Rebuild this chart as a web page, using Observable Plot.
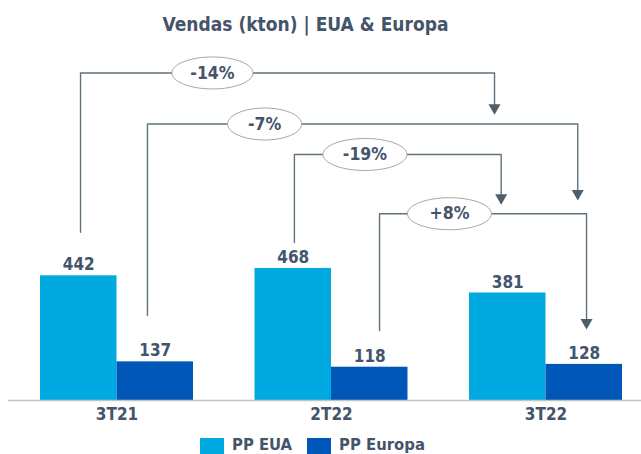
<!DOCTYPE html>
<html><head><meta charset="utf-8">
<script src="https://cdn.jsdelivr.net/npm/d3@7"></script>
<script src="https://cdn.jsdelivr.net/npm/@observablehq/plot@0.6"></script>
<style>
body{margin:0;background:#fff;font-family:"DejaVu Sans Condensed","DejaVu Sans",sans-serif;font-stretch:condensed;color:#44546a;}
#wrap{position:relative;width:641px;height:454px;overflow:hidden;}
#title{position:absolute;left:0;top:0;width:611px;text-align:center;font-weight:bold;font-size:19px;line-height:19px;padding-top:15px;}
#chart{position:absolute;left:0;top:40px;}
#legend{position:absolute;left:200px;top:436px;display:flex;align-items:flex-start;font-weight:bold;font-size:16.5px;line-height:17px;}
.sw{width:24px;height:18px;margin-top:2px;margin-right:8px;}
.item{display:flex;align-items:flex-start;margin-right:15px;}
</style></head><body>
<div id="wrap"><div id="title">Vendas (kton) | EUA &amp; Europa</div><div id="chart"></div><div id="legend"></div></div>
<script>
// ---- data ----
const quarters = ["3T21", "2T22", "3T22"];
const seriesNames = ["PP EUA", "PP Europa"];
const euaValues = [442, 468, 381];
const europaValues = [137, 118, 128];
const changeLabels = ["-14%", "-7%", "-19%", "+8%"];
const seriesColors = ["#00a9e0", "#0057b8"];

// ---- annotation layout (x in quarter-index units, y in kton units) ----
const connFromX = [-0.170, 0.142, 0.827, 1.224];
const connToX = [1.760, 2.148, 1.791, 2.189];
const connLevelY = [1161, 980, 872, 662];
const connStartY = [596, 301, 560, 248];
const connTipY = [1013, 709, 694, 252];
const labelX = [0.445, 0.688, 1.156, 1.550];
const labelRx = [40.5, 37, 42, 42];

const BW = 0.3566; // bar width in quarter units
const textColor = "#44546a";
const lineColor = "#5f737e";
const font = '"DejaVu Sans Condensed","DejaVu Sans",sans-serif';

const rows = [];
quarters.forEach((q, i) => {
  rows.push({q, i, series: seriesNames[0], value: euaValues[i]});
  rows.push({q, i, series: seriesNames[1], value: europaValues[i]});
});
const off = s => s === seriesNames[0] ? -BW : 0;

const connPts = [];
changeLabels.forEach((lab, k) => {
  connPts.push({k, x: connFromX[k], y: connStartY[k]});
  connPts.push({k, x: connFromX[k], y: connLevelY[k]});
  connPts.push({k, x: connToX[k], y: connLevelY[k]});
  connPts.push({k, x: connToX[k], y: connTipY[k] + 30});
});
const tips = changeLabels.map((lab, k) => ({x: connToX[k], y: connTipY[k]}));
const labels = changeLabels.map((lab, k) => ({lab, x: labelX[k], y: connLevelY[k], rx: labelRx[k]}));

function ellipse(a, b) {
  return {draw(ctx) {
    const k = 0.5523;
    ctx.moveTo(a, 0);
    ctx.bezierCurveTo(a, k * b, k * a, b, 0, b);
    ctx.bezierCurveTo(-k * a, b, -a, k * b, -a, 0);
    ctx.bezierCurveTo(-a, -k * b, -k * a, -b, 0, -b);
    ctx.bezierCurveTo(k * a, -b, a, -k * b, a, 0);
    ctx.closePath();
  }};
}

const chart = Plot.plot({
  width: 641,
  height: 390,
  marginTop: 0,
  marginBottom: 30,
  marginLeft: 8,
  marginRight: 0,
  style: {fontFamily: font, background: "transparent"},
  x: {domain: [0, 2], range: [116.5, 545.5], axis: null},
  y: {domain: [0, 1276], axis: null},
  color: {domain: seriesNames, range: seriesColors},
  marks: [
    Plot.rectY(rows, {x1: d => d.i + off(d.series), x2: d => d.i + off(d.series) + BW, y: "value", fill: "series"}),
    Plot.ruleY([0], {stroke: "#c3c3c3", strokeWidth: 1.5}),
    Plot.text(rows, {x: d => d.i + off(d.series) + BW / 2, y: "value", text: d => String(d.value), lineAnchor: "bottom", dy: -5.5, fill: textColor, fontWeight: "bold", fontSize: 17}),
    Plot.text(quarters, {x: (d, i) => i, y: () => 0, text: d => d, lineAnchor: "bottom", dy: 19.5, fill: textColor, fontWeight: "bold", fontSize: 17}),
    Plot.line(connPts, {x: "x", y: "y", z: "k", stroke: lineColor, strokeWidth: 1.4}),
    Plot.dot(tips, {x: "x", y: "y", symbol: "triangle", r: 4.46, rotate: 180, dy: -6.9, fill: "#4c5f6b", stroke: "none"}),
    ...labels.map(l => Plot.dot([l], {x: "x", y: "y", symbol: ellipse(l.rx, 16), fill: "white", stroke: "#a6a6a6", strokeWidth: 1})),
    Plot.text(labels, {x: "x", y: "y", text: "lab", fill: textColor, fontWeight: "bold", fontSize: 17.5})
  ]
});
document.getElementById("chart").appendChild(chart);

const legend = document.getElementById("legend");
seriesNames.forEach((s, i) => {
  const item = document.createElement("div");
  item.className = "item";
  const sw = document.createElement("div");
  sw.className = "sw";
  sw.style.background = seriesColors[i];
  const t = document.createElement("span");
  t.textContent = s;
  item.appendChild(sw); item.appendChild(t);
  legend.appendChild(item);
});
</script>
</body></html>
